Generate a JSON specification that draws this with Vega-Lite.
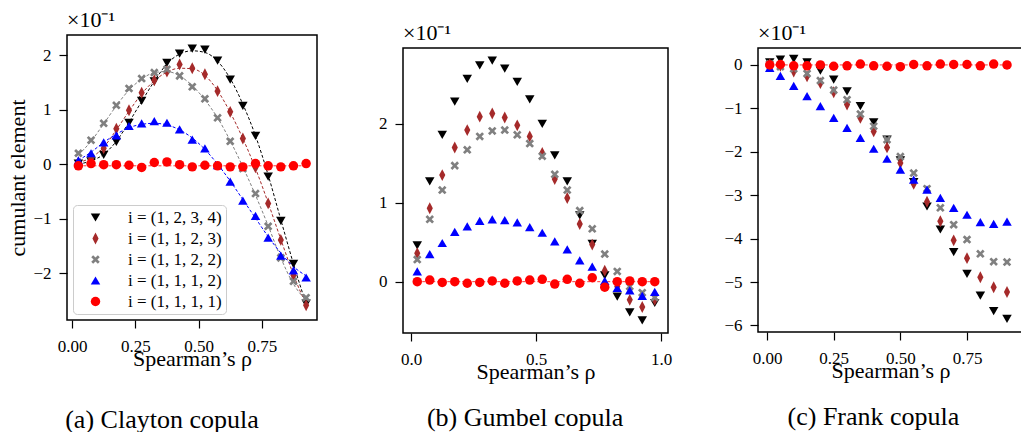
{
"$schema": "https://vega.github.io/schema/vega-lite/v6.json",
"padding": {"left": 6, "top": 8, "right": 0, "bottom": 0},
"background": "white",
"config": {
  "font": "Liberation Serif",
  "view": {"stroke": "black", "strokeWidth": 1.5},
  "axis": {"domain": false, "grid": false, "ticks": true, "tickColor": "black", "tickSize": 8, "tickWidth": 1.2, "labelFontSize": 17, "labelColor": "black", "titleFontSize": 22, "titleFontWeight": "normal", "titleColor": "black", "labelFont": "Liberation Serif", "titleFont": "Liberation Serif", "labelFlush": false, "labelOverlap": false, "labelBound": false},
  "axisX": {"labelPadding": 10, "titlePadding": -6},
  "axisY": {"labelPadding": 8, "titlePadding": 3},
  "title": {"font": "Liberation Serif", "fontWeight": "normal", "color": "black"},
  "line": {"strokeDash": [3, 2], "strokeWidth": 1, "clip": true}
},
"datasets": {
  "a": [
    {"s":"(1, 2, 3, 4)","x":0.025,"y":0.01,"f":0.0},{"s":"(1, 2, 3, 4)","x":0.075,"y":0.05,"f":0.06},{"s":"(1, 2, 3, 4)","x":0.125,"y":0.17,"f":0.18},{"s":"(1, 2, 3, 4)","x":0.175,"y":0.41,"f":0.42},{"s":"(1, 2, 3, 4)","x":0.225,"y":0.76,"f":0.77},{"s":"(1, 2, 3, 4)","x":0.275,"y":1.16,"f":1.15},{"s":"(1, 2, 3, 4)","x":0.325,"y":1.52,"f":1.52},{"s":"(1, 2, 3, 4)","x":0.375,"y":1.86,"f":1.84},{"s":"(1, 2, 3, 4)","x":0.425,"y":2.03,"f":2.02},{"s":"(1, 2, 3, 4)","x":0.475,"y":2.12,"f":2.08},{"s":"(1, 2, 3, 4)","x":0.525,"y":2.10,"f":2.05},{"s":"(1, 2, 3, 4)","x":0.575,"y":1.90,"f":1.89},{"s":"(1, 2, 3, 4)","x":0.625,"y":1.55,"f":1.57},{"s":"(1, 2, 3, 4)","x":0.675,"y":1.07,"f":1.10},{"s":"(1, 2, 3, 4)","x":0.725,"y":0.52,"f":0.52},{"s":"(1, 2, 3, 4)","x":0.775,"y":-0.23,"f":-0.20},{"s":"(1, 2, 3, 4)","x":0.825,"y":-1.04,"f":-1.02},{"s":"(1, 2, 3, 4)","x":0.875,"y":-1.83,"f":-1.83},{"s":"(1, 2, 3, 4)","x":0.925,"y":-2.56,"f":-2.57},
    {"s":"(1, 1, 2, 3)","x":0.025,"y":0.03,"f":0.03},{"s":"(1, 1, 2, 3)","x":0.075,"y":0.10,"f":0.12},{"s":"(1, 1, 2, 3)","x":0.125,"y":0.29,"f":0.31},{"s":"(1, 1, 2, 3)","x":0.175,"y":0.65,"f":0.63},{"s":"(1, 1, 2, 3)","x":0.225,"y":0.99,"f":0.97},{"s":"(1, 1, 2, 3)","x":0.275,"y":1.31,"f":1.29},{"s":"(1, 1, 2, 3)","x":0.325,"y":1.54,"f":1.53},{"s":"(1, 1, 2, 3)","x":0.375,"y":1.70,"f":1.69},{"s":"(1, 1, 2, 3)","x":0.425,"y":1.83,"f":1.76},{"s":"(1, 1, 2, 3)","x":0.475,"y":1.76,"f":1.75},{"s":"(1, 1, 2, 3)","x":0.525,"y":1.65,"f":1.63},{"s":"(1, 1, 2, 3)","x":0.575,"y":1.34,"f":1.35},{"s":"(1, 1, 2, 3)","x":0.625,"y":0.96,"f":0.95},{"s":"(1, 1, 2, 3)","x":0.675,"y":0.47,"f":0.47},{"s":"(1, 1, 2, 3)","x":0.725,"y":-0.06,"f":-0.08},{"s":"(1, 1, 2, 3)","x":0.775,"y":-0.72,"f":-0.71},{"s":"(1, 1, 2, 3)","x":0.825,"y":-1.39,"f":-1.38},{"s":"(1, 1, 2, 3)","x":0.875,"y":-2.04,"f":-2.03},{"s":"(1, 1, 2, 3)","x":0.925,"y":-2.59,"f":-2.58},
    {"s":"(1, 1, 2, 2)","x":0.025,"y":0.20,"f":0.17},{"s":"(1, 1, 2, 2)","x":0.075,"y":0.44,"f":0.42},{"s":"(1, 1, 2, 2)","x":0.125,"y":0.75,"f":0.74},{"s":"(1, 1, 2, 2)","x":0.175,"y":1.08,"f":1.07},{"s":"(1, 1, 2, 2)","x":0.225,"y":1.39,"f":1.36},{"s":"(1, 1, 2, 2)","x":0.275,"y":1.57,"f":1.56},{"s":"(1, 1, 2, 2)","x":0.325,"y":1.68,"f":1.68},{"s":"(1, 1, 2, 2)","x":0.375,"y":1.74,"f":1.70},{"s":"(1, 1, 2, 2)","x":0.425,"y":1.62,"f":1.62},{"s":"(1, 1, 2, 2)","x":0.475,"y":1.42,"f":1.44},{"s":"(1, 1, 2, 2)","x":0.525,"y":1.20,"f":1.18},{"s":"(1, 1, 2, 2)","x":0.575,"y":0.85,"f":0.85},{"s":"(1, 1, 2, 2)","x":0.625,"y":0.42,"f":0.43},{"s":"(1, 1, 2, 2)","x":0.675,"y":-0.08,"f":-0.05},{"s":"(1, 1, 2, 2)","x":0.725,"y":-0.54,"f":-0.57},{"s":"(1, 1, 2, 2)","x":0.775,"y":-1.14,"f":-1.13},{"s":"(1, 1, 2, 2)","x":0.825,"y":-1.72,"f":-1.72},{"s":"(1, 1, 2, 2)","x":0.875,"y":-2.15,"f":-2.20},{"s":"(1, 1, 2, 2)","x":0.925,"y":-2.45,"f":-2.50},
    {"s":"(1, 1, 1, 2)","x":0.025,"y":0.07,"f":0.07},{"s":"(1, 1, 1, 2)","x":0.075,"y":0.20,"f":0.22},{"s":"(1, 1, 1, 2)","x":0.125,"y":0.40,"f":0.40},{"s":"(1, 1, 1, 2)","x":0.175,"y":0.53,"f":0.55},{"s":"(1, 1, 1, 2)","x":0.225,"y":0.70,"f":0.67},{"s":"(1, 1, 1, 2)","x":0.275,"y":0.75,"f":0.73},{"s":"(1, 1, 1, 2)","x":0.325,"y":0.79,"f":0.75},{"s":"(1, 1, 1, 2)","x":0.375,"y":0.76,"f":0.72},{"s":"(1, 1, 1, 2)","x":0.425,"y":0.64,"f":0.63},{"s":"(1, 1, 1, 2)","x":0.475,"y":0.45,"f":0.48},{"s":"(1, 1, 1, 2)","x":0.525,"y":0.29,"f":0.27},{"s":"(1, 1, 1, 2)","x":0.575,"y":-0.02,"f":0.0},{"s":"(1, 1, 1, 2)","x":0.625,"y":-0.32,"f":-0.31},{"s":"(1, 1, 1, 2)","x":0.675,"y":-0.67,"f":-0.65},{"s":"(1, 1, 1, 2)","x":0.725,"y":-0.95,"f":-0.99},{"s":"(1, 1, 1, 2)","x":0.775,"y":-1.35,"f":-1.33},{"s":"(1, 1, 1, 2)","x":0.825,"y":-1.68,"f":-1.63},{"s":"(1, 1, 1, 2)","x":0.875,"y":-1.95,"f":-1.88},{"s":"(1, 1, 1, 2)","x":0.925,"y":-2.08,"f":-2.05},
    {"s":"(1, 1, 1, 1)","x":0.025,"y":-0.03,"f":-0.03},{"s":"(1, 1, 1, 1)","x":0.075,"y":0.01,"f":-0.03},{"s":"(1, 1, 1, 1)","x":0.125,"y":-0.01,"f":-0.03},{"s":"(1, 1, 1, 1)","x":0.175,"y":-0.01,"f":-0.03},{"s":"(1, 1, 1, 1)","x":0.225,"y":-0.02,"f":-0.03},{"s":"(1, 1, 1, 1)","x":0.275,"y":-0.06,"f":-0.03},{"s":"(1, 1, 1, 1)","x":0.325,"y":0.03,"f":-0.03},{"s":"(1, 1, 1, 1)","x":0.375,"y":0.04,"f":-0.03},{"s":"(1, 1, 1, 1)","x":0.425,"y":-0.01,"f":-0.03},{"s":"(1, 1, 1, 1)","x":0.475,"y":-0.05,"f":-0.03},{"s":"(1, 1, 1, 1)","x":0.525,"y":-0.02,"f":-0.03},{"s":"(1, 1, 1, 1)","x":0.575,"y":-0.03,"f":-0.03},{"s":"(1, 1, 1, 1)","x":0.625,"y":-0.05,"f":-0.03},{"s":"(1, 1, 1, 1)","x":0.675,"y":-0.05,"f":-0.03},{"s":"(1, 1, 1, 1)","x":0.725,"y":0.01,"f":-0.03},{"s":"(1, 1, 1, 1)","x":0.775,"y":-0.03,"f":-0.03},{"s":"(1, 1, 1, 1)","x":0.825,"y":-0.05,"f":-0.03},{"s":"(1, 1, 1, 1)","x":0.875,"y":-0.03,"f":-0.03},{"s":"(1, 1, 1, 1)","x":0.925,"y":0.01,"f":-0.03}
  ],
  "b": [
    {"s":"(1, 2, 3, 4)","x":0.025,"y":0.46},{"s":"(1, 2, 3, 4)","x":0.075,"y":1.27},{"s":"(1, 2, 3, 4)","x":0.125,"y":1.86},{"s":"(1, 2, 3, 4)","x":0.175,"y":2.28},{"s":"(1, 2, 3, 4)","x":0.225,"y":2.57},{"s":"(1, 2, 3, 4)","x":0.275,"y":2.74},{"s":"(1, 2, 3, 4)","x":0.325,"y":2.80},{"s":"(1, 2, 3, 4)","x":0.375,"y":2.70},{"s":"(1, 2, 3, 4)","x":0.425,"y":2.53},{"s":"(1, 2, 3, 4)","x":0.475,"y":2.31},{"s":"(1, 2, 3, 4)","x":0.525,"y":2.00},{"s":"(1, 2, 3, 4)","x":0.575,"y":1.60},{"s":"(1, 2, 3, 4)","x":0.625,"y":1.27},{"s":"(1, 2, 3, 4)","x":0.675,"y":0.84},{"s":"(1, 2, 3, 4)","x":0.725,"y":0.48},{"s":"(1, 2, 3, 4)","x":0.775,"y":0.08},{"s":"(1, 2, 3, 4)","x":0.825,"y":-0.19},{"s":"(1, 2, 3, 4)","x":0.875,"y":-0.39},{"s":"(1, 2, 3, 4)","x":0.925,"y":-0.49},{"s":"(1, 2, 3, 4)","x":0.975,"y":-0.27},
    {"s":"(1, 1, 2, 3)","x":0.025,"y":0.36},{"s":"(1, 1, 2, 3)","x":0.075,"y":0.93},{"s":"(1, 1, 2, 3)","x":0.125,"y":1.35},{"s":"(1, 1, 2, 3)","x":0.175,"y":1.70},{"s":"(1, 1, 2, 3)","x":0.225,"y":1.92},{"s":"(1, 1, 2, 3)","x":0.275,"y":2.09},{"s":"(1, 1, 2, 3)","x":0.325,"y":2.13},{"s":"(1, 1, 2, 3)","x":0.375,"y":2.08},{"s":"(1, 1, 2, 3)","x":0.425,"y":1.98},{"s":"(1, 1, 2, 3)","x":0.475,"y":1.84},{"s":"(1, 1, 2, 3)","x":0.525,"y":1.63},{"s":"(1, 1, 2, 3)","x":0.575,"y":1.30},{"s":"(1, 1, 2, 3)","x":0.625,"y":1.06},{"s":"(1, 1, 2, 3)","x":0.675,"y":0.73},{"s":"(1, 1, 2, 3)","x":0.725,"y":0.47},{"s":"(1, 1, 2, 3)","x":0.775,"y":0.14},{"s":"(1, 1, 2, 3)","x":0.825,"y":-0.06},{"s":"(1, 1, 2, 3)","x":0.875,"y":-0.23},{"s":"(1, 1, 2, 3)","x":0.925,"y":-0.32},{"s":"(1, 1, 2, 3)","x":0.975,"y":-0.23},
    {"s":"(1, 1, 2, 2)","x":0.025,"y":0.28},{"s":"(1, 1, 2, 2)","x":0.075,"y":0.79},{"s":"(1, 1, 2, 2)","x":0.125,"y":1.16},{"s":"(1, 1, 2, 2)","x":0.175,"y":1.47},{"s":"(1, 1, 2, 2)","x":0.225,"y":1.67},{"s":"(1, 1, 2, 2)","x":0.275,"y":1.84},{"s":"(1, 1, 2, 2)","x":0.325,"y":1.91},{"s":"(1, 1, 2, 2)","x":0.375,"y":1.92},{"s":"(1, 1, 2, 2)","x":0.425,"y":1.86},{"s":"(1, 1, 2, 2)","x":0.475,"y":1.75},{"s":"(1, 1, 2, 2)","x":0.525,"y":1.59},{"s":"(1, 1, 2, 2)","x":0.575,"y":1.36},{"s":"(1, 1, 2, 2)","x":0.625,"y":1.16},{"s":"(1, 1, 2, 2)","x":0.675,"y":0.90},{"s":"(1, 1, 2, 2)","x":0.725,"y":0.67},{"s":"(1, 1, 2, 2)","x":0.775,"y":0.35},{"s":"(1, 1, 2, 2)","x":0.825,"y":0.13},{"s":"(1, 1, 2, 2)","x":0.875,"y":-0.06},{"s":"(1, 1, 2, 2)","x":0.925,"y":-0.14},{"s":"(1, 1, 2, 2)","x":0.975,"y":-0.20},
    {"s":"(1, 1, 1, 2)","x":0.025,"y":0.13},{"s":"(1, 1, 1, 2)","x":0.075,"y":0.35},{"s":"(1, 1, 1, 2)","x":0.125,"y":0.49},{"s":"(1, 1, 1, 2)","x":0.175,"y":0.63},{"s":"(1, 1, 1, 2)","x":0.225,"y":0.70},{"s":"(1, 1, 1, 2)","x":0.275,"y":0.77},{"s":"(1, 1, 1, 2)","x":0.325,"y":0.79},{"s":"(1, 1, 1, 2)","x":0.375,"y":0.78},{"s":"(1, 1, 1, 2)","x":0.425,"y":0.75},{"s":"(1, 1, 1, 2)","x":0.475,"y":0.69},{"s":"(1, 1, 1, 2)","x":0.525,"y":0.62},{"s":"(1, 1, 1, 2)","x":0.575,"y":0.51},{"s":"(1, 1, 1, 2)","x":0.625,"y":0.41},{"s":"(1, 1, 1, 2)","x":0.675,"y":0.27},{"s":"(1, 1, 1, 2)","x":0.725,"y":0.19},{"s":"(1, 1, 1, 2)","x":0.775,"y":0.01},{"s":"(1, 1, 1, 2)","x":0.825,"y":-0.08},{"s":"(1, 1, 1, 2)","x":0.875,"y":-0.11},{"s":"(1, 1, 1, 2)","x":0.925,"y":-0.18},{"s":"(1, 1, 1, 2)","x":0.975,"y":-0.13},
    {"s":"(1, 1, 1, 1)","x":0.025,"y":0.0,"f":0},{"s":"(1, 1, 1, 1)","x":0.075,"y":0.02,"f":0},{"s":"(1, 1, 1, 1)","x":0.125,"y":-0.01,"f":0},{"s":"(1, 1, 1, 1)","x":0.175,"y":0.0,"f":0},{"s":"(1, 1, 1, 1)","x":0.225,"y":-0.02,"f":0},{"s":"(1, 1, 1, 1)","x":0.275,"y":-0.01,"f":0},{"s":"(1, 1, 1, 1)","x":0.325,"y":0.01,"f":0},{"s":"(1, 1, 1, 1)","x":0.375,"y":-0.02,"f":0},{"s":"(1, 1, 1, 1)","x":0.425,"y":0.01,"f":0},{"s":"(1, 1, 1, 1)","x":0.475,"y":0.02,"f":0},{"s":"(1, 1, 1, 1)","x":0.525,"y":0.03,"f":0},{"s":"(1, 1, 1, 1)","x":0.575,"y":-0.03,"f":0},{"s":"(1, 1, 1, 1)","x":0.625,"y":0.03,"f":0},{"s":"(1, 1, 1, 1)","x":0.675,"y":-0.02,"f":0},{"s":"(1, 1, 1, 1)","x":0.725,"y":0.05,"f":0},{"s":"(1, 1, 1, 1)","x":0.775,"y":-0.07,"f":0},{"s":"(1, 1, 1, 1)","x":0.825,"y":0.0,"f":0},{"s":"(1, 1, 1, 1)","x":0.875,"y":0.01,"f":0},{"s":"(1, 1, 1, 1)","x":0.925,"y":0.0,"f":0},{"s":"(1, 1, 1, 1)","x":0.975,"y":0.0,"f":0}
  ],
  "c": [
    {"s":"(1, 2, 3, 4)","x":0.01,"y":0.06},{"s":"(1, 2, 3, 4)","x":0.05,"y":0.12},{"s":"(1, 2, 3, 4)","x":0.10,"y":0.14},{"s":"(1, 2, 3, 4)","x":0.15,"y":0.06},{"s":"(1, 2, 3, 4)","x":0.20,"y":-0.13},{"s":"(1, 2, 3, 4)","x":0.25,"y":-0.34},{"s":"(1, 2, 3, 4)","x":0.30,"y":-0.61},{"s":"(1, 2, 3, 4)","x":0.35,"y":-0.95},{"s":"(1, 2, 3, 4)","x":0.40,"y":-1.32},{"s":"(1, 2, 3, 4)","x":0.45,"y":-1.72},{"s":"(1, 2, 3, 4)","x":0.50,"y":-2.20},{"s":"(1, 2, 3, 4)","x":0.55,"y":-2.70},{"s":"(1, 2, 3, 4)","x":0.60,"y":-3.26},{"s":"(1, 2, 3, 4)","x":0.65,"y":-3.79},{"s":"(1, 2, 3, 4)","x":0.70,"y":-4.31},{"s":"(1, 2, 3, 4)","x":0.75,"y":-4.81},{"s":"(1, 2, 3, 4)","x":0.80,"y":-5.31},{"s":"(1, 2, 3, 4)","x":0.85,"y":-5.67},{"s":"(1, 2, 3, 4)","x":0.90,"y":-5.85},
    {"s":"(1, 1, 2, 3)","x":0.01,"y":0.02},{"s":"(1, 1, 2, 3)","x":0.05,"y":-0.02},{"s":"(1, 1, 2, 3)","x":0.10,"y":-0.15},{"s":"(1, 1, 2, 3)","x":0.15,"y":-0.26},{"s":"(1, 1, 2, 3)","x":0.20,"y":-0.42},{"s":"(1, 1, 2, 3)","x":0.25,"y":-0.63},{"s":"(1, 1, 2, 3)","x":0.30,"y":-0.91},{"s":"(1, 1, 2, 3)","x":0.35,"y":-1.22},{"s":"(1, 1, 2, 3)","x":0.40,"y":-1.53},{"s":"(1, 1, 2, 3)","x":0.45,"y":-1.90},{"s":"(1, 1, 2, 3)","x":0.50,"y":-2.26},{"s":"(1, 1, 2, 3)","x":0.55,"y":-2.74},{"s":"(1, 1, 2, 3)","x":0.60,"y":-3.15},{"s":"(1, 1, 2, 3)","x":0.65,"y":-3.60},{"s":"(1, 1, 2, 3)","x":0.70,"y":-4.04},{"s":"(1, 1, 2, 3)","x":0.75,"y":-4.45},{"s":"(1, 1, 2, 3)","x":0.80,"y":-4.89},{"s":"(1, 1, 2, 3)","x":0.85,"y":-5.12},{"s":"(1, 1, 2, 3)","x":0.90,"y":-5.23},
    {"s":"(1, 1, 2, 2)","x":0.01,"y":0.02},{"s":"(1, 1, 2, 2)","x":0.05,"y":-0.04},{"s":"(1, 1, 2, 2)","x":0.10,"y":-0.09},{"s":"(1, 1, 2, 2)","x":0.15,"y":-0.20},{"s":"(1, 1, 2, 2)","x":0.20,"y":-0.36},{"s":"(1, 1, 2, 2)","x":0.25,"y":-0.58},{"s":"(1, 1, 2, 2)","x":0.30,"y":-0.80},{"s":"(1, 1, 2, 2)","x":0.35,"y":-1.13},{"s":"(1, 1, 2, 2)","x":0.40,"y":-1.41},{"s":"(1, 1, 2, 2)","x":0.45,"y":-1.72},{"s":"(1, 1, 2, 2)","x":0.50,"y":-2.11},{"s":"(1, 1, 2, 2)","x":0.55,"y":-2.49},{"s":"(1, 1, 2, 2)","x":0.60,"y":-2.85},{"s":"(1, 1, 2, 2)","x":0.65,"y":-3.29},{"s":"(1, 1, 2, 2)","x":0.70,"y":-3.68},{"s":"(1, 1, 2, 2)","x":0.75,"y":-4.02},{"s":"(1, 1, 2, 2)","x":0.80,"y":-4.35},{"s":"(1, 1, 2, 2)","x":0.85,"y":-4.53},{"s":"(1, 1, 2, 2)","x":0.90,"y":-4.54},
    {"s":"(1, 1, 1, 2)","x":0.01,"y":-0.07},{"s":"(1, 1, 1, 2)","x":0.05,"y":-0.25},{"s":"(1, 1, 1, 2)","x":0.10,"y":-0.48},{"s":"(1, 1, 1, 2)","x":0.15,"y":-0.72},{"s":"(1, 1, 1, 2)","x":0.20,"y":-0.95},{"s":"(1, 1, 1, 2)","x":0.25,"y":-1.22},{"s":"(1, 1, 1, 2)","x":0.30,"y":-1.45},{"s":"(1, 1, 1, 2)","x":0.35,"y":-1.68},{"s":"(1, 1, 1, 2)","x":0.40,"y":-1.93},{"s":"(1, 1, 1, 2)","x":0.45,"y":-2.16},{"s":"(1, 1, 1, 2)","x":0.50,"y":-2.41},{"s":"(1, 1, 1, 2)","x":0.55,"y":-2.64},{"s":"(1, 1, 1, 2)","x":0.60,"y":-2.87},{"s":"(1, 1, 1, 2)","x":0.65,"y":-3.06},{"s":"(1, 1, 1, 2)","x":0.70,"y":-3.29},{"s":"(1, 1, 1, 2)","x":0.75,"y":-3.45},{"s":"(1, 1, 1, 2)","x":0.80,"y":-3.62},{"s":"(1, 1, 1, 2)","x":0.85,"y":-3.66},{"s":"(1, 1, 1, 2)","x":0.90,"y":-3.61},
    {"s":"(1, 1, 1, 1)","x":0.01,"y":0.0,"f":0},{"s":"(1, 1, 1, 1)","x":0.05,"y":0.01,"f":0},{"s":"(1, 1, 1, 1)","x":0.10,"y":-0.02,"f":0},{"s":"(1, 1, 1, 1)","x":0.15,"y":-0.02,"f":0},{"s":"(1, 1, 1, 1)","x":0.20,"y":0.0,"f":0},{"s":"(1, 1, 1, 1)","x":0.25,"y":-0.03,"f":0},{"s":"(1, 1, 1, 1)","x":0.30,"y":-0.02,"f":0},{"s":"(1, 1, 1, 1)","x":0.35,"y":0.02,"f":0},{"s":"(1, 1, 1, 1)","x":0.40,"y":-0.02,"f":0},{"s":"(1, 1, 1, 1)","x":0.45,"y":-0.03,"f":0},{"s":"(1, 1, 1, 1)","x":0.50,"y":-0.04,"f":0},{"s":"(1, 1, 1, 1)","x":0.55,"y":0.01,"f":0},{"s":"(1, 1, 1, 1)","x":0.60,"y":-0.02,"f":0},{"s":"(1, 1, 1, 1)","x":0.65,"y":0.02,"f":0},{"s":"(1, 1, 1, 1)","x":0.70,"y":0.01,"f":0},{"s":"(1, 1, 1, 1)","x":0.75,"y":0.01,"f":0},{"s":"(1, 1, 1, 1)","x":0.80,"y":-0.02,"f":0},{"s":"(1, 1, 1, 1)","x":0.85,"y":0.02,"f":0},{"s":"(1, 1, 1, 1)","x":0.90,"y":0.0,"f":0}
  ]
},
"spacing": 59,
"resolve": {"scale": {"color": "independent", "shape": "independent"}, "legend": {"color": "independent", "shape": "independent"}},
"hconcat": [
  {
    "title": {"text": "(a) Clayton copula", "orient": "bottom", "anchor": "middle", "fontSize": 26, "offset": 37},
    "resolve": {"scale": {"color": "independent", "shape": "independent"}, "legend": {"color": "independent", "shape": "independent"}},
    "vconcat": [
      {
        "width": 250, "height": 285,
        "title": {"text": "×10⁻¹", "anchor": "start", "frame": "group", "fontSize": 22, "offset": 3},
        "data": {"name": "a"},
        "encoding": {
          "x": {"field": "x", "type": "quantitative", "scale": {"domain": [-0.02, 0.968], "nice": false, "zero": false}, "axis": {"title": "Spearman’s ρ", "values": [0, 0.25, 0.5, 0.75], "format": ".2f"}}
        },
        "layer": [
          {"transform": [{"filter": "datum.s == '(1, 2, 3, 4)'"}], "mark": {"type": "line", "color": "#000000", "interpolate": "monotone"}, "encoding": {"y": {"field": "f", "type": "quantitative", "scale": {"domain": [-2.86, 2.37], "nice": false, "zero": false}, "axis": {"title": "cumulant element", "values": [-2, -1, 0, 1, 2], "format": "d"}}}},
          {"transform": [{"filter": "datum.s == '(1, 1, 2, 3)'"}], "mark": {"type": "line", "color": "#a52a2a", "interpolate": "monotone"}, "encoding": {"y": {"field": "f", "type": "quantitative", "scale": {"domain": [-2.86, 2.37], "nice": false, "zero": false}, "axis": {"title": "cumulant element", "values": [-2, -1, 0, 1, 2], "format": "d"}}}},
          {"transform": [{"filter": "datum.s == '(1, 1, 2, 2)'"}], "mark": {"type": "line", "color": "#808080", "interpolate": "monotone"}, "encoding": {"y": {"field": "f", "type": "quantitative", "scale": {"domain": [-2.86, 2.37], "nice": false, "zero": false}, "axis": {"title": "cumulant element", "values": [-2, -1, 0, 1, 2], "format": "d"}}}},
          {"transform": [{"filter": "datum.s == '(1, 1, 1, 2)'"}], "mark": {"type": "line", "color": "#0000ff", "interpolate": "monotone"}, "encoding": {"y": {"field": "f", "type": "quantitative", "scale": {"domain": [-2.86, 2.37], "nice": false, "zero": false}, "axis": {"title": "cumulant element", "values": [-2, -1, 0, 1, 2], "format": "d"}}}},
          {"transform": [{"filter": "datum.s == '(1, 1, 1, 1)'"}], "mark": {"type": "line", "color": "#ff0000", "opacity": 0.8}, "encoding": {"y": {"field": "f", "type": "quantitative", "scale": {"domain": [-2.86, 2.37], "nice": false, "zero": false}, "axis": {"title": "cumulant element", "values": [-2, -1, 0, 1, 2], "format": "d"}}}},
          {
            "mark": {"type": "point", "filled": true, "size": 90, "opacity": 1, "strokeWidth": 0},
            "encoding": {
              "y": {"field": "y", "type": "quantitative", "scale": {"domain": [-2.86, 2.37], "nice": false, "zero": false}, "axis": {"title": "cumulant element", "values": [-2, -1, 0, 1, 2], "format": "d"}},
              "color": {"field": "s", "type": "nominal", "scale": {"domain": ["(1, 2, 3, 4)", "(1, 1, 2, 3)", "(1, 1, 2, 2)", "(1, 1, 1, 2)", "(1, 1, 1, 1)"], "range": ["#000000", "#a52a2a", "#808080", "#0000ff", "#ff0000"]},
                "legend": {"title": null, "orient": "bottom-left", "offset": 6, "fillColor": "white", "strokeColor": "#cccccc", "cornerRadius": 4, "padding": 4, "symbolOffset": 10, "labelOffset": 24, "rowPadding": 3, "labelFontSize": 17, "labelFont": "Liberation Serif", "labelColor": "black", "labelExpr": "'i = ' + datum.label", "symbolSize": 90}},
              "shape": {"field": "s", "type": "nominal", "scale": {"domain": ["(1, 2, 3, 4)", "(1, 1, 2, 3)", "(1, 1, 2, 2)", "(1, 1, 1, 2)", "(1, 1, 1, 1)"], "range": ["triangle-down", "M0,-1.25L0.65,0L0,1.25L-0.65,0Z", "M-0.9,-0.5L-0.5,-0.9L0,-0.4L0.5,-0.9L0.9,-0.5L0.4,0L0.9,0.5L0.5,0.9L0,0.4L-0.5,0.9L-0.9,0.5L-0.4,0Z", "triangle-up", "circle"]},
                "legend": {"title": null, "orient": "bottom-left", "offset": 6, "fillColor": "white", "strokeColor": "#cccccc", "cornerRadius": 4, "padding": 4, "symbolOffset": 10, "labelOffset": 24, "rowPadding": 3, "labelFontSize": 17, "labelFont": "Liberation Serif", "labelColor": "black", "labelExpr": "'i = ' + datum.label", "symbolSize": 90}}
            }
          }
        ]
      }
    ]
  },
  {
    "spacing": 50,
    "resolve": {"scale": {"color": "independent", "shape": "independent"}, "legend": {"color": "independent", "shape": "independent"}},
    "hconcat": [
      {
        "title": {"text": "(b) Gumbel copula", "orient": "bottom", "anchor": "middle", "fontSize": 26, "offset": 22},
        "spacing": -15,
        "vconcat": [
          {"width": 265, "height": 1, "view": {"stroke": null}, "data": {"values": []}, "mark": {"type": "point", "opacity": 0}, "encoding": {}},
          {
            "width": 265, "height": 285,
            "title": {"text": "×10⁻¹", "anchor": "start", "frame": "group", "fontSize": 22, "offset": 3},
            "data": {"name": "b"},
            "encoding": {
              "x": {"field": "x", "type": "quantitative", "scale": {"domain": [-0.032, 1.028], "nice": false, "zero": false}, "axis": {"title": "Spearman’s ρ", "values": [0, 0.5, 1], "format": ".1f"}}
            },
            "layer": [
              {"transform": [{"filter": "isValid(datum.f)"}], "mark": {"type": "line", "color": "#ff0000", "opacity": 0.8}, "encoding": {"y": {"field": "f", "type": "quantitative", "scale": {"domain": [-0.65, 2.96], "nice": false, "zero": false}, "axis": {"title": null, "values": [0, 1, 2], "format": "d"}}}},
              {
                "mark": {"type": "point", "filled": true, "size": 90, "opacity": 1, "strokeWidth": 0},
                "encoding": {
                  "y": {"field": "y", "type": "quantitative", "scale": {"domain": [-0.65, 2.96], "nice": false, "zero": false}, "axis": {"title": null, "values": [0, 1, 2], "format": "d"}},
                  "color": {"field": "s", "type": "nominal", "scale": {"domain": ["(1, 2, 3, 4)", "(1, 1, 2, 3)", "(1, 1, 2, 2)", "(1, 1, 1, 2)", "(1, 1, 1, 1)"], "range": ["#000000", "#a52a2a", "#808080", "#0000ff", "#ff0000"]}, "legend": null},
                  "shape": {"field": "s", "type": "nominal", "scale": {"domain": ["(1, 2, 3, 4)", "(1, 1, 2, 3)", "(1, 1, 2, 2)", "(1, 1, 1, 2)", "(1, 1, 1, 1)"], "range": ["triangle-down", "M0,-1.25L0.65,0L0,1.25L-0.65,0Z", "M-0.9,-0.5L-0.5,-0.9L0,-0.4L0.5,-0.9L0.9,-0.5L0.4,0L0.9,0.5L0.5,0.9L0,0.4L-0.5,0.9L-0.9,0.5L-0.4,0Z", "triangle-up", "circle"]}, "legend": null}
                }
              }
            ]
          }
        ]
      },
      {
        "title": {"text": "(c) Frank copula", "orient": "bottom", "anchor": "middle", "fontSize": 26, "offset": 22},
        "spacing": -15,
        "vconcat": [
          {"width": 265, "height": 1, "view": {"stroke": null}, "data": {"values": []}, "mark": {"type": "point", "opacity": 0}, "encoding": {}},
          {
            "width": 265, "height": 284,
            "title": {"text": "×10⁻¹", "anchor": "start", "frame": "group", "fontSize": 22, "offset": 3},
            "data": {"name": "c"},
            "encoding": {
              "x": {"field": "x", "type": "quantitative", "scale": {"domain": [-0.034, 0.96], "nice": false, "zero": false}, "axis": {"title": "Spearman’s ρ", "values": [0, 0.25, 0.5, 0.75], "format": ".2f"}}
            },
            "layer": [
              {"transform": [{"filter": "isValid(datum.f)"}], "mark": {"type": "line", "color": "#ff0000", "opacity": 0.8}, "encoding": {"y": {"field": "f", "type": "quantitative", "scale": {"domain": [-6.15, 0.39], "nice": false, "zero": false}, "axis": {"title": null, "values": [0, -1, -2, -3, -4, -5, -6], "format": "d"}}}},
              {
                "mark": {"type": "point", "filled": true, "size": 90, "opacity": 1, "strokeWidth": 0},
                "encoding": {
                  "y": {"field": "y", "type": "quantitative", "scale": {"domain": [-6.15, 0.39], "nice": false, "zero": false}, "axis": {"title": null, "values": [0, -1, -2, -3, -4, -5, -6], "format": "d"}},
                  "color": {"field": "s", "type": "nominal", "scale": {"domain": ["(1, 2, 3, 4)", "(1, 1, 2, 3)", "(1, 1, 2, 2)", "(1, 1, 1, 2)", "(1, 1, 1, 1)"], "range": ["#000000", "#a52a2a", "#808080", "#0000ff", "#ff0000"]}, "legend": null},
                  "shape": {"field": "s", "type": "nominal", "scale": {"domain": ["(1, 2, 3, 4)", "(1, 1, 2, 3)", "(1, 1, 2, 2)", "(1, 1, 1, 2)", "(1, 1, 1, 1)"], "range": ["triangle-down", "M0,-1.25L0.65,0L0,1.25L-0.65,0Z", "M-0.9,-0.5L-0.5,-0.9L0,-0.4L0.5,-0.9L0.9,-0.5L0.4,0L0.9,0.5L0.5,0.9L0,0.4L-0.5,0.9L-0.9,0.5L-0.4,0Z", "triangle-up", "circle"]}, "legend": null}
                }
              }
            ]
          }
        ]
      }
    ]
  }
]
}
